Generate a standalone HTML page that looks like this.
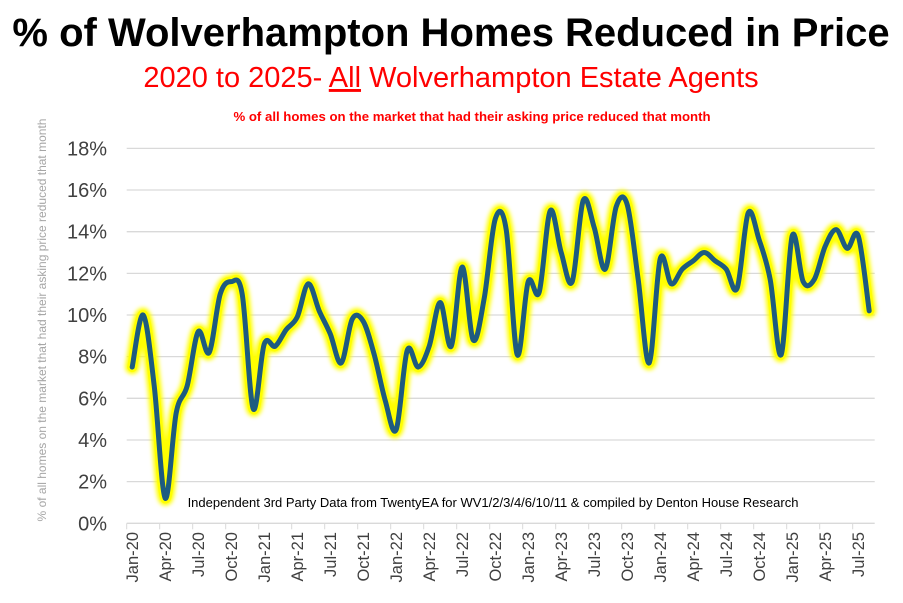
<!DOCTYPE html>
<html><head><meta charset="utf-8"><style>
body{margin:0;background:#fff;}
svg{display:block;font-family:"Liberation Sans",Arial,sans-serif;}
</style></head><body>
<svg id="chart" width="903" height="603" viewBox="0 0 903 603">
<defs><filter id="glow" x="-10%" y="-10%" width="120%" height="120%"><feGaussianBlur stdDeviation="2"/></filter></defs>
<text x="451" y="46" text-anchor="middle" font-size="40" font-weight="bold" fill="#000">% of Wolverhampton Homes Reduced in Price</text>
<text x="451" y="87" text-anchor="middle" font-size="29" fill="#ff0000">2020 to 2025- <tspan text-decoration="underline">All</tspan> Wolverhampton Estate Agents</text>
<text x="472" y="121" text-anchor="middle" font-size="13.2" font-weight="bold" fill="#ff0000">% of all homes on the market that had their asking price reduced that month</text>
<text transform="translate(46,320) rotate(-90)" text-anchor="middle" font-size="12" fill="#a6a6a6">% of all homes on the market that had their asking price reduced that month</text>
<g id="grid"></g><g id="yticks"></g><g id="xticks"></g>
<text x="493" y="507" text-anchor="middle" font-size="13" fill="#000">Independent 3rd Party Data from TwentyEA for WV1/2/3/4/6/10/11 &amp; compiled by Denton House Research</text>
<g id="series"></g>
</svg>
<script>
const months=["Jan","Feb","Mar","Apr","May","Jun","Jul","Aug","Sep","Oct","Nov","Dec"];
const categories=[];for(let y=20;y<=25;y++)for(let m=0;m<12;m++){if(y===25&&m>7)break;categories.push(months[m]+"-"+y);}
const values=[7.5,10.0,6.6,1.2,5.3,6.6,9.2,8.2,11.0,11.6,11.0,5.5,8.6,8.5,9.3,9.9,11.5,10.2,9.1,7.7,9.8,9.7,8.1,5.9,4.5,8.3,7.5,8.5,10.6,8.5,12.3,8.8,10.8,14.6,14.1,8.1,11.6,11.1,15.0,13.0,11.6,15.5,14.2,12.2,15.2,15.3,11.7,7.7,12.7,11.5,12.2,12.6,13.0,12.6,12.2,11.3,14.9,13.6,11.7,8.1,13.8,11.6,11.7,13.3,14.1,13.2,13.8,10.2];
const yTicks=[0,2,4,6,8,10,12,14,16,18];
const NS="http://www.w3.org/2000/svg";
const x0=126.7,step=11,yBase=523.3,pxPer=20.83;
const xScale=i=>x0+step*(i+0.5);
const yScale=v=>yBase-v*pxPer;
const grid=document.getElementById('grid'),yt=document.getElementById('yticks'),xt=document.getElementById('xticks'),ser=document.getElementById('series');
const xEnd=x0+step*categories.length;
yTicks.forEach(t=>{
 const l=document.createElementNS(NS,'line');
 l.setAttribute('x1',x0);l.setAttribute('x2',xEnd);l.setAttribute('y1',yScale(t));l.setAttribute('y2',yScale(t));
 l.setAttribute('stroke','#d9d9d9');l.setAttribute('stroke-width','1.3');
 
 
 grid.appendChild(l);
 const tx=document.createElementNS(NS,'text');
 tx.setAttribute('x',107);tx.setAttribute('y',yScale(t)+7);tx.setAttribute('text-anchor','end');tx.setAttribute('font-size','20');tx.setAttribute('fill','#404040');
 tx.textContent=t+'%';
 
 
 yt.appendChild(tx);
});
categories.forEach((c,i)=>{
 if(i%3===0){
  const tk=document.createElementNS(NS,'line');
  const xx=x0+step*i;
  tk.setAttribute('x1',xx);tk.setAttribute('x2',xx);tk.setAttribute('y1',yBase);tk.setAttribute('y2',yBase+6);tk.setAttribute('stroke','#d9d9d9');
  
  
  xt.appendChild(tk);
  const tx=document.createElementNS(NS,'text');
  tx.setAttribute('transform','translate('+(xScale(i)+6)+',532) rotate(-90)');
  tx.setAttribute('text-anchor','end');tx.setAttribute('font-size','16.5');tx.setAttribute('fill','#404040');
  tx.textContent=c;
  
  
  xt.appendChild(tx);
 }
});
const pts=values.map((v,i)=>[xScale(i),yScale(v)]);
let d='M'+pts[0][0]+','+pts[0][1];
for(let i=0;i<pts.length-1;i++){
 const p0=pts[Math.max(0,i-1)],p1=pts[i],p2=pts[i+1],p3=pts[Math.min(pts.length-1,i+2)];
 const c1=[p1[0]+(p2[0]-p0[0])/6,p1[1]+(p2[1]-p0[1])/6],c2=[p2[0]-(p3[0]-p1[0])/6,p2[1]-(p3[1]-p1[1])/6];
 d+=' C'+c1+' '+c2+' '+p2;
}
function mk(stroke,w,f,name){
 const p=document.createElementNS(NS,'path');
 p.setAttribute('d',d);p.setAttribute('fill','none');p.setAttribute('stroke',stroke);p.setAttribute('stroke-width',w);
 p.setAttribute('stroke-linejoin','round');p.setAttribute('stroke-linecap','round');
 if(f)p.setAttribute('filter','url(#glow)');
 
 
 ser.appendChild(p);
}
mk('#ffff00',14,true,'series-glow');
mk('#ffff00',10,false,'series-glow-core');
mk('#1d5b80',5,false,'series-line');
</script>
</body></html>
